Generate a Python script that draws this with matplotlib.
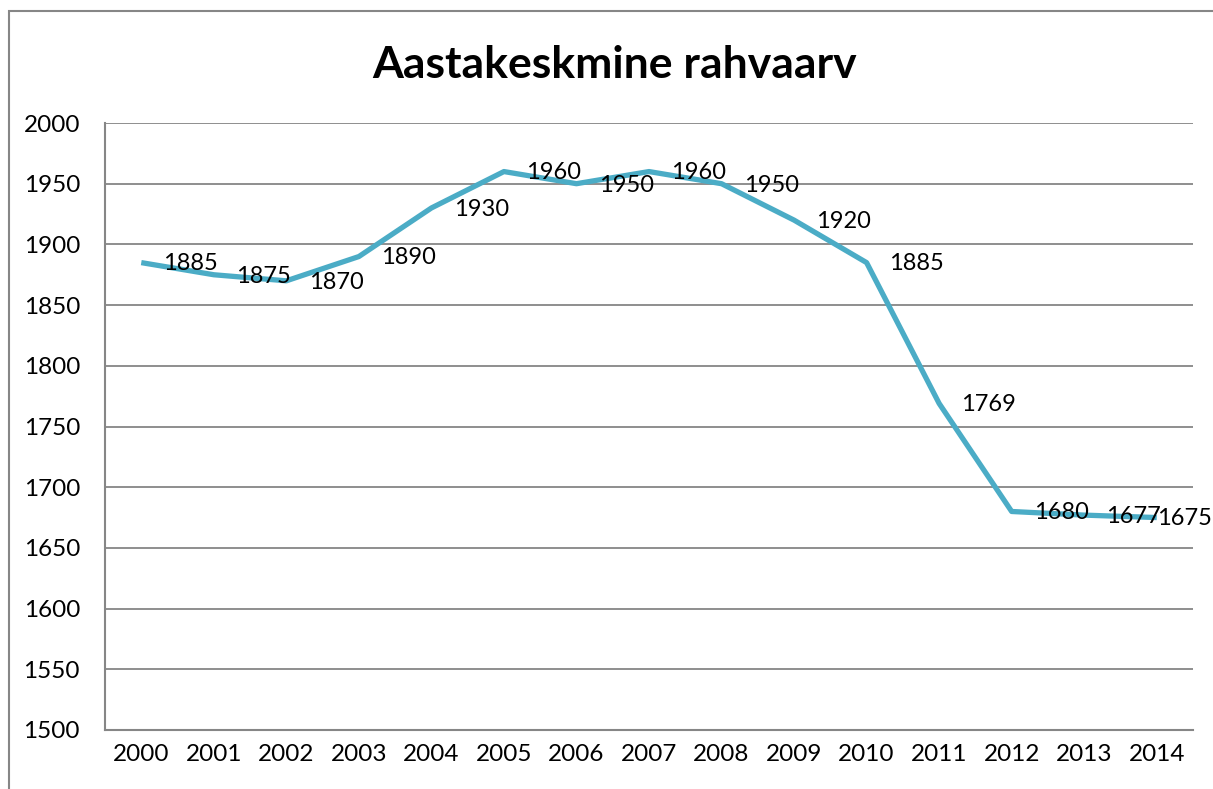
import matplotlib
matplotlib.use("Agg")
import matplotlib.pyplot as plt
from matplotlib.patches import Rectangle

# Average population by year
years = [str(y) for y in range(2000, 2015)]
population = [1885, 1875, 1870, 1890, 1930, 1960, 1950, 1960, 1950, 1920,
              1885, 1769, 1680, 1677, 1675]
title = "Aastakeskmine rahvaarv"

plt.rcParams['font.family'] = ['Lato', 'DejaVu Sans']

W, H = 1213, 789
fig = plt.figure(figsize=(W / 100, H / 100), dpi=100)
ax = fig.add_axes([105 / W, 1 - 730 / H, (1193 - 105) / W, (730 - 123) / H])

grid_col = '#868686'
line_col = '#4BACC6'

x = list(range(len(years)))
ax.plot(x, population, color=line_col, lw=3.8, solid_joinstyle='round',
        solid_capstyle='butt', zorder=3)

# data labels to the right of each point (last one squeezed in at the edge)
for i, v in enumerate(population):
    dx = 16 if i < len(population) - 1 else 0
    ax.annotate(str(v), (i, v), xytext=(dx, -1), textcoords='offset points',
                ha='left', va='center', fontsize=17, color='black', zorder=4,
                annotation_clip=False)

ax.set_xlim(-0.5, len(years) - 0.5)
ax.set_ylim(1500, 2000)
ax.set_yticks(range(1500, 2001, 50))
ax.set_xticks(x)
ax.set_xticklabels(years)
ax.tick_params(axis='both', length=0, labelsize=17.5, colors='black')
ax.tick_params(axis='y', pad=18)
ax.tick_params(axis='x', pad=10)
ax.grid(axis='y', color=grid_col, lw=1.3)
ax.set_axisbelow(True)
for side in ['top', 'right']:
    ax.spines[side].set_visible(False)
for side in ['left', 'bottom']:
    ax.spines[side].set_color(grid_col)
    ax.spines[side].set_linewidth(1.5)

fig.text(615 / W, 1 - 65 / H, title, ha='center', va='center',
         fontsize=32, fontweight='bold')

# outer chart border (runs off the right and bottom of the picture)
fig.patches.append(Rectangle((9 / W, -0.05), 1.1, 1 - 11 / H + 0.05,
                             transform=fig.transFigure, fill=False,
                             edgecolor=grid_col, lw=1.5))

fig.savefig('out.png', dpi=100)
